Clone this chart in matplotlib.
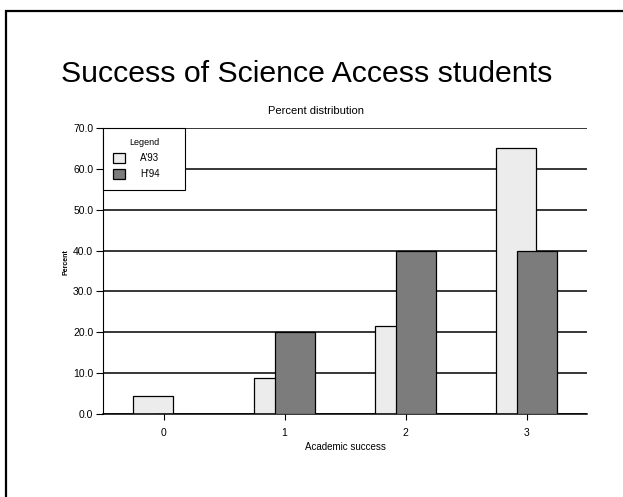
import numpy as np
import matplotlib
matplotlib.use("Agg")
from matplotlib import pyplot as plt
from matplotlib.patches import Rectangle

plt.rcParams['font.family'] = ['Liberation Sans', 'DejaVu Sans']

categories = ['0', '1', '2', '3']
a93 = [4.5, 8.8, 21.5, 65.0]
h94 = [0.0, 20.0, 40.0, 40.0]
series_names = ["A'93", "H'94"]
y_ticks = [0, 10, 20, 30, 40, 50, 60, 70]

W, H = 623, 497
fig = plt.figure(figsize=(W / 100, H / 100), dpi=100)
fig.patch.set_facecolor('white')

# slide border
fig.patches.append(Rectangle((6 / W, -0.1), 1.2, 1 - 11 / H + 0.1,
                             transform=fig.transFigure, fill=False,
                             edgecolor='black', linewidth=1.6))

fig.text(61 / W, 1 - 74 / H, 'Success of Science Access students',
         fontsize=21.8, ha='left', va='center')
fig.text(316 / W, 1 - 111 / H, 'Percent distribution', fontsize=8,
         ha='center', va='center')
fig.text(66 / W, 1 - 262 / H, 'Percent', fontsize=5, rotation=90,
         ha='center', va='center', fontweight='bold')

ax = fig.add_axes([103 / W, 1 - 414 / H, 484 / W, 286 / H])
x = np.arange(len(categories))
bw = 0.33
off = 0.083
ax.bar(x - off, a93, width=bw, color='#ececec', edgecolor='black',
       linewidth=0.9, zorder=2, label=series_names[0])
ax.bar(x + off, h94, width=bw, color='#7c7c7c', edgecolor='black',
       linewidth=0.9, zorder=3, label=series_names[1])

ax.set_xlim(-0.5, 3.5)
ax.set_ylim(0, 70)
ax.set_yticks(y_ticks)
ax.set_yticklabels(['%.1f' % v for v in y_ticks], fontsize=7.5)
ax.set_xticks(x)
ax.set_xticklabels(categories, fontsize=7.5)
ax.tick_params(axis='y', length=5, width=0.8, pad=2)
ax.tick_params(axis='x', length=4, width=0.8, pad=6)
ax.yaxis.grid(True, color='black', linewidth=1.1, zorder=1)
ax.set_axisbelow(True)
for s in ['top', 'right']:
    ax.spines[s].set_visible(False)
ax.spines['left'].set_linewidth(0.8)
ax.spines['bottom'].set_linewidth(1.1)
ax.set_xlabel('Academic success', fontsize=7, labelpad=3)

# legend box stretched to a fixed width in the top-left corner
leg = ax.legend(title='Legend', loc='upper left',
                bbox_to_anchor=(0, 0.78, 82 / 484, 0.22), mode='expand',
                borderaxespad=0, fontsize=7, title_fontsize=6.5,
                fancybox=False, framealpha=1, edgecolor='black',
                handlelength=1.2, handleheight=1.2, handletextpad=1.6,
                borderpad=1.05, labelspacing=0.6)
leg.get_frame().set_linewidth(0.8)
leg._legend_box.align = 'center'
leg.set_zorder(5)

fig.savefig('out.png', dpi=100)
